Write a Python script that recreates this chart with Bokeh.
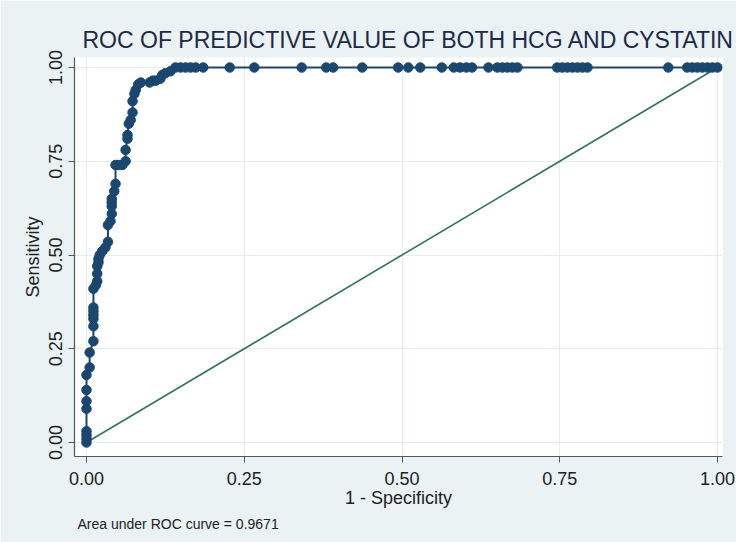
from bokeh.plotting import figure
from bokeh.models import FixedTicker, NumeralTickFormatter, Range1d, Title
from bokeh.embed import file_html
from bokeh.resources import INLINE

# ROC points (1 - specificity, sensitivity)
fpr = [0, 0, 0, 0, 0, 0, 0, 0, 0.005, 0.005,
       0.011, 0.011, 0.011, 0.011, 0.011, 0.011, 0.011, 0.015, 0.017, 0.017,
       0.017, 0.019, 0.019, 0.021, 0.025, 0.030, 0.034, 0.034, 0.038, 0.040,
       0.040, 0.040, 0.040, 0.044, 0.046, 0.046, 0.050, 0.057, 0.062, 0.062,
       0.065, 0.065, 0.067, 0.070, 0.073, 0.073, 0.076, 0.078, 0.082, 0.086,
       0.100, 0.105, 0.110, 0.117, 0.120, 0.125, 0.133, 0.141, 0.149, 0.157,
       0.165, 0.173, 0.185, 0.227, 0.266, 0.341, 0.380, 0.391, 0.437, 0.494,
       0.510, 0.529, 0.563, 0.582, 0.592, 0.602, 0.611, 0.637, 0.651, 0.659,
       0.667, 0.675, 0.683, 0.746, 0.754, 0.762, 0.770, 0.778, 0.786, 0.794,
       0.922, 0.952, 0.960, 0.968, 0.976, 0.984, 0.992, 1.000]
tpr = [0.00, 0.01, 0.02, 0.03, 0.09, 0.11, 0.14, 0.18, 0.20, 0.24,
       0.27, 0.31, 0.33, 0.34, 0.35, 0.36, 0.41, 0.42, 0.43, 0.45,
       0.47, 0.48, 0.49, 0.50, 0.51, 0.52, 0.535, 0.58, 0.59, 0.61,
       0.63, 0.64, 0.65, 0.67, 0.69, 0.74, 0.74, 0.74, 0.75, 0.78,
       0.81, 0.82, 0.85, 0.86, 0.88, 0.91, 0.93, 0.94, 0.955, 0.96,
       0.96, 0.965, 0.965, 0.97, 0.98, 0.985, 0.99, 1.00, 1.00, 1.00,
       1.00, 1.00, 1.00, 1.00, 1.00, 1.00, 1.00, 1.00, 1.00, 1.00,
       1.00, 1.00, 1.00, 1.00, 1.00, 1.00, 1.00, 1.00, 1.00, 1.00,
       1.00, 1.00, 1.00, 1.00, 1.00, 1.00, 1.00, 1.00, 1.00, 1.00,
       1.00, 1.00, 1.00, 1.00, 1.00, 1.00, 1.00, 1.00]
ref_x = [0, 1]
ref_y = [0, 1]
ticks = [0, 0.25, 0.5, 0.75, 1.0]
title_text = "ROC OF PREDICTIVE VALUE OF BOTH HCG AND CYSTATIN"
auc_text = "Area under ROC curve = 0.9671"

FONT = "Liberation Sans"
NAVY = "#1a476f"
BG = "#eaf2f3"
TXT = "#222222"

p = figure(width=736, height=542, output_backend="svg", toolbar_location=None,
           x_range=Range1d(-0.019, 1.0079), y_range=Range1d(-0.0373, 1.0267),
           min_border_left=74, min_border_right=14, min_border_top=57, min_border_bottom=86)
p.border_fill_color = BG
p.background_fill_color = "white"
p.outline_line_color = None

p.title.text = title_text
p.title.align = "left"
p.title.text_font = FONT
p.title.text_font_size = "23px"
p.title.text_font_style = "normal"
p.title.text_color = "#1e2a48"
p.title.offset = 8
p.title.standoff = 9

p.line(ref_x, ref_y, line_color="#2e7461", line_width=1.6)
p.line(fpr, tpr, line_color=NAVY, line_width=2)
p.scatter(fpr, tpr, size=9.5, fill_color=NAVY, line_color=NAVY)

for ax in (p.xaxis[0], p.yaxis[0]):
    ax.ticker = FixedTicker(ticks=ticks)
    ax.formatter = NumeralTickFormatter(format="0.00")
    ax.minor_tick_line_color = None
    ax.major_tick_in = 0
    ax.major_tick_out = 6
    ax.axis_line_color = "#555555"
    ax.major_tick_line_color = "#555555"
    ax.axis_line_width = 1.2
    ax.major_label_text_font = FONT
    ax.major_label_text_font_size = "18px"
    ax.major_label_text_color = TXT
    ax.axis_label_text_font = FONT
    ax.axis_label_text_font_size = "18px"
    ax.axis_label_text_font_style = "normal"
    ax.axis_label_text_color = TXT

p.xaxis.axis_label = "1 - Specificity"
p.xaxis.major_label_standoff = 9
p.xaxis.axis_label_standoff = 0
p.yaxis.axis_label = "Sensitivity"
p.yaxis.major_label_orientation = "vertical"
p.yaxis.major_label_standoff = 6
p.yaxis.axis_label_standoff = 4

p.xgrid.ticker = FixedTicker(ticks=ticks)
p.ygrid.ticker = FixedTicker(ticks=ticks)
p.grid.grid_line_color = "#e6edef"
p.grid.grid_line_width = 1.2

auc = Title(text=auc_text, align="left", text_font=FONT, text_font_size="14px",
            text_font_style="normal", text_color=TXT, offset=3, standoff=6)
p.add_layout(auc, "below")

open("out.html", "w").write(file_html(p, INLINE))
